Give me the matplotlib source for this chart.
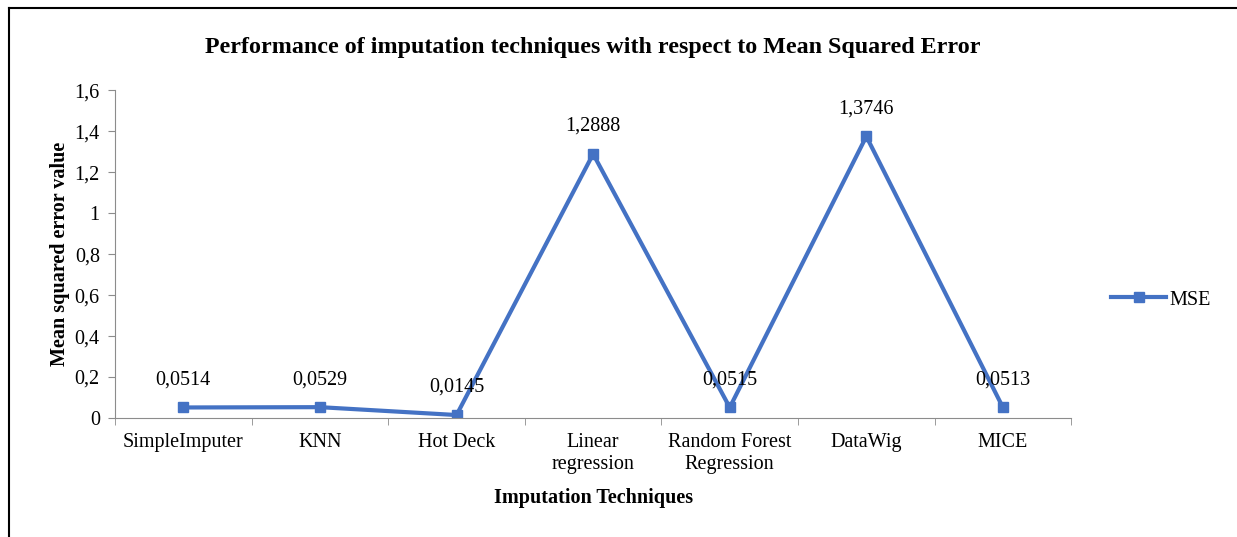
import matplotlib.pyplot as plt
from matplotlib.lines import Line2D

plt.rcParams['font.family'] = ['Liberation Serif', 'DejaVu Serif']

# Daten
techniques = ['SimpleImputer', 'KNN', 'Hot Deck', 'Linear\nregression',
              'Random Forest\nRegression', 'DataWig', 'MICE']
mse = [0.0514, 0.0529, 0.0145, 1.2888, 0.0515, 1.3746, 0.0513]
mse_labels = ['0,0514', '0,0529', '0,0145', '1,2888', '0,0515', '1,3746', '0,0513']
y_ticks = [0, 0.2, 0.4, 0.6, 0.8, 1.0, 1.2, 1.4, 1.6]
y_tick_labels = ['0', '0,2', '0,4', '0,6', '0,8', '1', '1,2', '1,4', '1,6']

blue = '#4472C4'
grey = '#8c8c8c'
fs = 14.5

fig = plt.figure(figsize=(12.37, 5.37), dpi=100)
ax = fig.add_axes([0.093, 0.2216, 0.773, 0.6104])

x = list(range(len(techniques)))
ax.plot(x, mse, color=blue, linewidth=3, marker='s', markersize=7, label='MSE')

for xi, yi, lab in zip(x, mse, mse_labels):
    ax.annotate(lab, (xi, yi), xytext=(0, 13), textcoords='offset points',
                ha='center', va='bottom', fontsize=fs)

ax.set_xlim(-0.5, len(techniques) - 0.5)
ax.set_ylim(0, 1.6)
ax.set_yticks(y_ticks)
ax.set_yticklabels(y_tick_labels, fontsize=fs)
ax.set_xticks(x)
ax.set_xticklabels(techniques, fontsize=fs, linespacing=1.2)
ax.tick_params(axis='x', length=0, pad=11)
ax.set_xticks([i - 0.5 for i in range(len(techniques) + 1)], minor=True)
ax.tick_params(axis='x', which='minor', length=5, color=grey)
ax.tick_params(axis='y', length=5, color=grey, pad=6)

for side in ['top', 'right']:
    ax.spines[side].set_visible(False)
for side in ['left', 'bottom']:
    ax.spines[side].set_color(grey)

ax.set_title('Performance of imputation techniques with respect to Mean Squared Error',
             fontsize=17.3, fontweight='bold', pad=27)
ax.set_xlabel('Imputation Techniques', fontsize=fs, fontweight='bold', labelpad=10)
ax.set_ylabel('Mean squared error value', fontsize=fs, fontweight='bold', labelpad=3)

ax.legend(loc='center left', bbox_to_anchor=(1.023, 0.36), frameon=False,
          fontsize=fs, handlelength=2.7, handletextpad=0.2)

# Rahmen (links und oben sichtbar)
fig.add_artist(Line2D([0.0069, 0.0069], [0, 0.985], transform=fig.transFigure,
                      color='black', linewidth=1.5))
fig.add_artist(Line2D([0.0069, 1], [0.985, 0.985], transform=fig.transFigure,
                      color='black', linewidth=1.5))

fig.savefig('out.png', dpi=100)
